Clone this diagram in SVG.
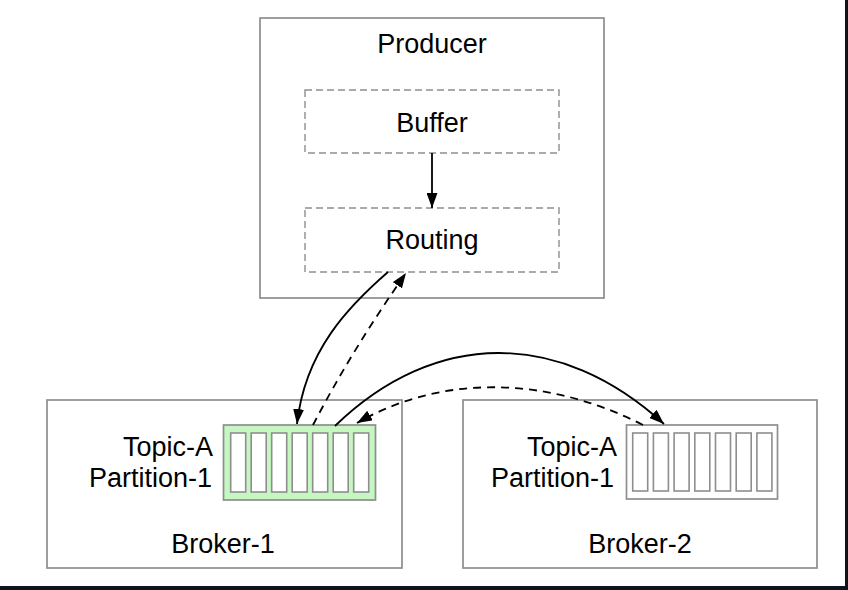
<svg xmlns="http://www.w3.org/2000/svg" width="848" height="590" viewBox="0 0 848 590">
  <defs>
    <style>
      .box { fill: #ffffff; stroke: #8e8e8e; stroke-width: 1.7; }
      .inner { fill: none; stroke: #8e8e8e; stroke-width: 1.4; stroke-dasharray: 7 4; }
      .part { stroke: #8e8e8e; stroke-width: 1.7; }
      .slot { fill: #ffffff; stroke: #8e8e8e; stroke-width: 1.6; }
      .lbl { font-family: "Liberation Sans", Arial, Helvetica, sans-serif; font-size: 27px; fill: #000000; }
      .mid { text-anchor: middle; }
      .end { text-anchor: end; }
      .edge { fill: none; stroke: #000000; stroke-width: 1.8; }
      .dash { stroke-dasharray: 8 6; }
    </style>
    <marker id="arrow" viewBox="0 0 15 11" refX="15" refY="5.5" markerWidth="15" markerHeight="11" markerUnits="userSpaceOnUse" orient="auto">
      <path d="M0,0 L15,5.5 L0,11 Z" fill="#000000"/>
    </marker>
  </defs>

  <rect x="0" y="0" width="848" height="590" fill="#ffffff"/>

  <!-- frame edge along the right and bottom -->
  <rect x="845" y="0" width="3" height="590" fill="#10131a"/>
  <rect x="0" y="586" width="848" height="4" fill="#10131a"/>

  <g id="producer">
    <rect class="box" x="260" y="18" width="344" height="280"/>
    <text class="lbl mid" x="432" y="53">Producer</text>
  </g>

  <g id="buffer">
    <rect class="inner" x="305" y="90" width="254" height="63"/>
    <text class="lbl mid" x="432" y="132">Buffer</text>
  </g>

  <g id="routing">
    <rect class="inner" x="305" y="208" width="254" height="64"/>
    <text class="lbl mid" x="432" y="249">Routing</text>
  </g>

  <g id="broker-1">
    <rect class="box" x="47" y="400" width="355" height="168"/>
    <text class="lbl end" x="213" y="456">Topic-A</text>
    <text class="lbl end" x="212" y="487">Partition-1</text>
    <text class="lbl mid" x="223" y="553">Broker-1</text>
  </g>

  <g id="partition-1-leader">
    <rect class="part" x="223.5" y="425" width="152" height="75" fill="#c6f6c1"/>
    <rect class="slot" x="230.7" y="433" width="15" height="59"/>
    <rect class="slot" x="251.2" y="433" width="15" height="59"/>
    <rect class="slot" x="271.7" y="433" width="15" height="59"/>
    <rect class="slot" x="292.2" y="433" width="15" height="59"/>
    <rect class="slot" x="312.7" y="433" width="15" height="59"/>
    <rect class="slot" x="333.2" y="433" width="15" height="59"/>
    <rect class="slot" x="353.7" y="433" width="15" height="59"/>
  </g>

  <g id="broker-2">
    <rect class="box" x="463" y="400" width="354" height="168"/>
    <text class="lbl end" x="617" y="456">Topic-A</text>
    <text class="lbl end" x="614" y="487">Partition-1</text>
    <text class="lbl mid" x="640" y="553">Broker-2</text>
  </g>

  <g id="partition-1-replica">
    <rect class="part" x="626.5" y="425" width="151" height="74" fill="#ffffff"/>
    <rect class="slot" x="632.7" y="433" width="15" height="58"/>
    <rect class="slot" x="653.4" y="433" width="15" height="58"/>
    <rect class="slot" x="674.1" y="433" width="15" height="58"/>
    <rect class="slot" x="694.8" y="433" width="15" height="58"/>
    <rect class="slot" x="715.5" y="433" width="15" height="58"/>
    <rect class="slot" x="736.2" y="433" width="15" height="58"/>
    <rect class="slot" x="756.9" y="433" width="15" height="58"/>
  </g>

  <g id="connectors">
    <!-- buffer to routing -->
    <path class="edge" d="M432,153 L432,208" marker-end="url(#arrow)"/>
    <!-- routing sends to leader partition -->
    <path class="edge" d="M388,272 C350,305 305,350 297,424" marker-end="url(#arrow)"/>
    <!-- leader acknowledges back to routing -->
    <path class="edge dash" d="M313,425 Q352,350 406,273" marker-end="url(#arrow)"/>
    <!-- leader replicates to follower -->
    <path class="edge" d="M335,426 C435,329 560,329 664,424" marker-end="url(#arrow)"/>
    <!-- follower acknowledges to leader -->
    <path class="edge dash" d="M643,425 C545,375 440,375 357,423" marker-end="url(#arrow)"/>
  </g>
</svg>
